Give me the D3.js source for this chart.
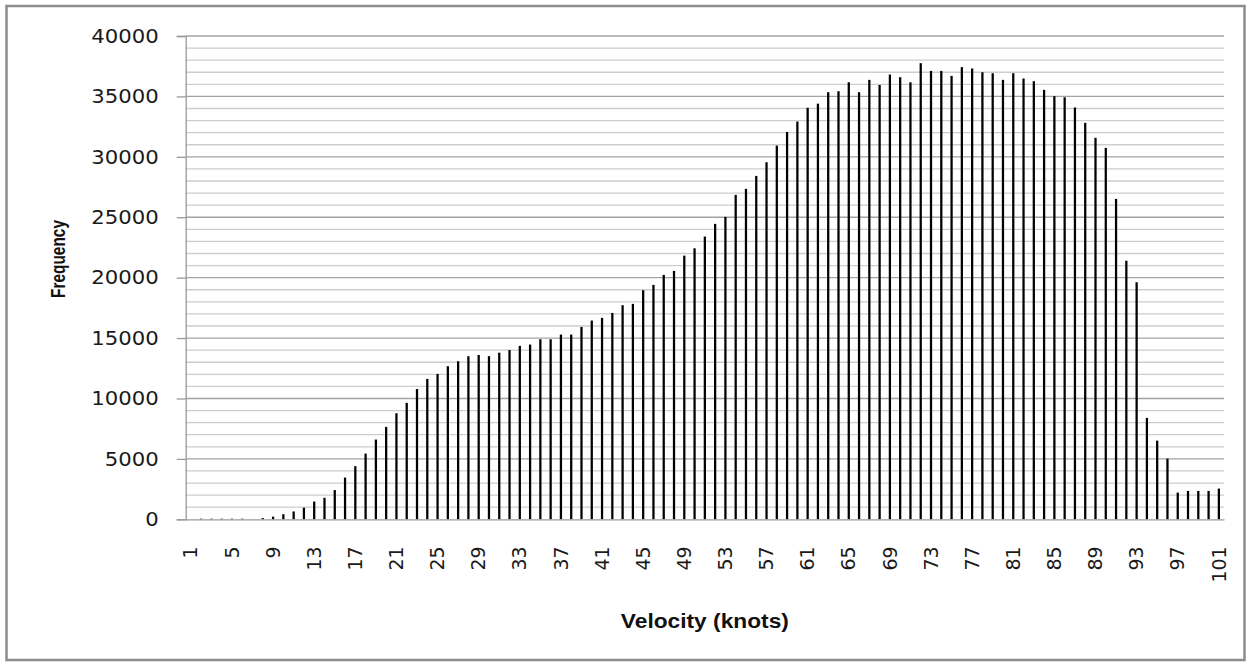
<!DOCTYPE html>
<html lang="en">
<head>
    <title>Velocity histogram</title>
    <meta charset="utf-8">
    <script src="https://d3js.org/d3.v7.min.js"></script>
    <style>
        body { margin: 0; background: #fff; }
    </style>
</head>
<body>
<div id="chart"></div>
<script>
    // Velocity bins (knots) and their frequency counts
    const velocities = d3.range(1, 102);
    const frequencies = [
        0, 50, 50, 50, 50, 50, 0, 100, 220, 420,
        650, 960, 1470, 1780, 2420, 3450, 4400, 5440, 6600, 7650,
        8780, 9640, 10780, 11620, 12030, 12670, 13080, 13500, 13600, 13500,
        13790, 14010, 14350, 14460, 14900, 14900, 15290, 15290, 15920, 16450,
        16670, 17080, 17720, 17830, 18960, 19400, 20230, 20560, 21820, 22430,
        23400, 24450, 25030, 26850, 27350, 28420, 29550, 30930, 32060, 32920,
        34060, 34400, 35350, 35430, 36170, 35350, 36370, 35950, 36810, 36590,
        36170, 37750, 37110, 37110, 36700, 37420, 37310, 37000, 36920, 36370,
        36920, 36480, 36260, 35540, 35020, 34930, 34080, 32810, 31570, 30740,
        26520, 21400, 19620, 8390, 6510, 5020, 2210, 2350, 2350, 2350,
        2540
    ];
    const yTicks = [0, 5000, 10000, 15000, 20000, 25000, 30000, 35000, 40000];
    const yMinorTicks = d3.range(1000, 40000, 1000).filter(v => v % 5000 !== 0);

    const data = velocities.map((v, i) => ({velocity: v, count: frequencies[i]}));

    const W = 1251, H = 667;
    const plot = {left: 185.7, right: 1224, top: 36, bottom: 519.3};

    const svg = d3.select("#chart")
        .append("svg")
        .attr("width", W)
        .attr("height", H);

    // chart area border
    svg.append("rect")
        .attr("x", 6.5).attr("y", 6)
        .attr("width", 1238).attr("height", 654)
        .attr("fill", "#fff")
        .attr("stroke", "#8c8c8c")
        .attr("stroke-width", 2.5);

    const x = d3.scaleBand()
        .domain(velocities)
        .range([plot.left, plot.right])
        .paddingInner(0.78)
        .paddingOuter(0.39);

    const y = d3.scaleLinear()
        .domain([0, 40000])
        .range([plot.bottom, plot.top]);

    // minor gridlines
    svg.append("g")
        .selectAll("line")
        .data(yMinorTicks)
        .join("line")
        .attr("x1", plot.left).attr("x2", plot.right)
        .attr("y1", d => y(d)).attr("y2", d => y(d))
        .attr("stroke", "#cdcdcd")
        .attr("stroke-width", 1.3);

    // major gridlines
    svg.append("g")
        .selectAll("line")
        .data(yTicks.filter(d => d > 0))
        .join("line")
        .attr("x1", plot.left).attr("x2", plot.right)
        .attr("y1", d => y(d)).attr("y2", d => y(d))
        .attr("stroke", "#a3a3a3")
        .attr("stroke-width", 1.3);

    // bars
    svg.append("g")
        .selectAll("rect")
        .data(data)
        .join("rect")
        .attr("x", d => x(d.velocity))
        .attr("y", d => y(d.count))
        .attr("width", x.bandwidth())
        .attr("height", d => y(0) - y(d.count))
        .attr("fill", "#000");

    // Y axis
    const yAxis = svg.append("g")
        .attr("transform", `translate(${plot.left},0)`)
        .call(d3.axisLeft(y).tickValues(yTicks).tickSize(9).tickPadding(18).tickFormat(d3.format("d")));
    yAxis.select(".domain").attr("stroke", "#9a9a9a").attr("stroke-width", 1.3);
    yAxis.selectAll(".tick line").attr("stroke", "#9a9a9a").attr("stroke-width", 1.3);
    yAxis.selectAll(".tick text")
        .attr("font-family", "DejaVu Sans")
        .attr("font-size", 19.5)
        .attr("fill", "#1a1a1a")
        .attr("textLength", d => String(d).length * 13.5)
        .attr("lengthAdjust", "spacingAndGlyphs");

    // X axis
    const xAxis = svg.append("g")
        .attr("transform", `translate(0,${plot.bottom})`)
        .call(d3.axisBottom(x).tickValues(velocities.filter((v, i) => i % 4 === 0)).tickSize(0).tickPadding(0));
    xAxis.select(".domain").attr("stroke", "#9a9a9a").attr("stroke-width", 1.3);
    xAxis.selectAll(".tick text")
        .attr("font-family", "DejaVu Sans")
        .attr("font-size", 19)
        .attr("fill", "#1a1a1a")
        .attr("text-anchor", "end")
        .attr("dy", "0.35em")
        .attr("transform", "translate(0,27) rotate(-90)")
        .attr("x", 0).attr("y", 0);

    // axis titles
    svg.append("text")
        .attr("x", (plot.left + plot.right) / 2)
        .attr("y", 628)
        .attr("text-anchor", "middle")
        .attr("font-family", "Liberation Sans")
        .attr("font-weight", "bold")
        .attr("font-size", 21)
        .attr("fill", "#111")
        .attr("textLength", 168)
        .attr("lengthAdjust", "spacingAndGlyphs")
        .text("Velocity (knots)");

    svg.append("text")
        .attr("transform", "translate(65,259) rotate(-90)")
        .attr("text-anchor", "middle")
        .attr("font-family", "Liberation Sans")
        .attr("font-weight", "bold")
        .attr("font-size", 19.5)
        .attr("fill", "#111")
        .attr("textLength", 78)
        .attr("lengthAdjust", "spacingAndGlyphs")
        .text("Frequency");
</script>
</body>
</html>
